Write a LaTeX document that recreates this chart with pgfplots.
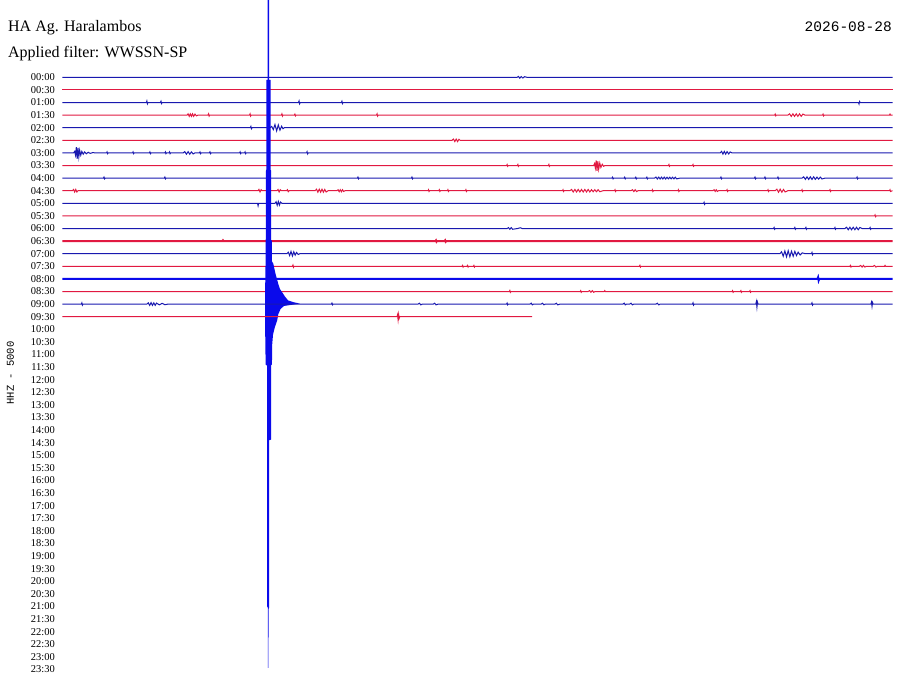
\documentclass[border=0pt]{standalone}
\usepackage{pgfplots}
\pgfplotsset{compat=1.18}
\usepackage{fontspec}
\setmainfont{Liberation Serif}
\newfontfamily\monofont{Liberation Mono}
\definecolor{hb}{RGB}{25,25,175}
\definecolor{hr}{RGB}{225,25,65}
\definecolor{qb}{RGB}{10,10,235}
\begin{document}
\begin{tikzpicture}
\begin{axis}[
    scale only axis,
    width=830pt, height=686pt,
    xmin=0, xmax=30,
    ymin=-6.135, ymax=48.31,
    y dir=reverse,
    clip=false,
    axis line style={draw=none},
    xtick=\empty,
    ytick={0,...,47},
    yticklabels={00:00,00:30,01:00,01:30,02:00,02:30,03:00,03:30,04:00,04:30,05:00,05:30,
                 06:00,06:30,07:00,07:30,08:00,08:30,09:00,09:30,10:00,10:30,11:00,11:30,
                 12:00,12:30,13:00,13:30,14:00,14:30,15:00,15:30,16:00,16:30,17:00,17:30,
                 18:00,18:30,19:00,19:30,20:00,20:30,21:00,21:30,22:00,22:30,23:00,23:30},
    major tick length=0pt,
    yticklabel style={font=\fontsize{10.5}{12}\selectfont, inner sep=0pt, xshift=-7.5pt},
    no markers,
    bl/.style={hb, line width=1pt},
    rd/.style={hr, line width=1pt},
]
% 00:00 - 08:30
\addplot[bl] coordinates {(0,0)(16.43,0)(16.48,-0.07)(16.53,0.07)(16.58,-0.06)(16.64,0.06)(16.70,-0.05)(16.79,0)(30,0)};
\addplot[rd] coordinates {(0,1)(30,1)};
\addplot[bl] coordinates {(0,2)(3.03,2)(3.05,1.88)(3.07,2.1)(3.09,2)(3.54,2)(3.56,1.9)(3.58,2.08)(3.60,2)(8.53,2)(8.55,1.88)(8.57,2.1)(8.59,2)(10.08,2)(10.10,1.9)(10.12,2.08)(10.14,2)(28.77,2)(28.79,2.12)(28.81,1.92)(28.83,2)(30,2)};
\addplot[rd] coordinates {(0,3)(4.50,3)(4.54,2.9)(4.58,3.1)(4.62,2.9)(4.66,3.1)(4.70,2.9)(4.74,3.1)(4.79,2.92)(4.84,3.06)(4.90,3)(5.26,3)(5.28,2.9)(5.30,3.08)(5.32,3)(6.76,3)(6.78,2.9)(6.80,3.08)(6.82,3)(7.91,3)(7.93,2.9)(7.95,3.08)(7.97,3)(8.38,3)(8.40,2.92)(8.42,3.06)(8.44,3)(11.35,3)(11.37,2.9)(11.39,3.08)(11.41,3)(25.74,3)(25.76,2.92)(25.78,3.06)(25.80,3)(26.22,3)(26.28,2.9)(26.34,3.1)(26.40,2.9)(26.46,3.1)(26.52,2.9)(26.58,3.1)(26.64,2.9)(26.70,3.1)(26.76,2.92)(26.84,3)(27.47,3)(27.49,2.92)(27.51,3.06)(27.53,3)(29.89,3)(29.91,2.92)(29.93,3)(30,3)};
\addplot[bl] coordinates {(0,4)(6.79,4)(6.81,3.9)(6.83,4.08)(6.85,4)(7.50,4)(7.56,3.9)(7.62,4.15)(7.68,3.75)(7.74,4.25)(7.80,3.78)(7.86,4.2)(7.92,3.88)(7.97,4.08)(8.02,4)(30,4)};
\addplot[rd] coordinates {(0,5)(14.08,5)(14.13,4.9)(14.18,5.1)(14.23,4.9)(14.28,5.1)(14.33,4.92)(14.37,5)(30,5)};
\addplot[bl] coordinates {(0,6)(0.40,6)(0.44,5.88)(0.47,6.18)(0.50,5.55)(0.53,6.48)(0.56,5.6)(0.59,6.32)(0.62,5.78)(0.66,6.18)(0.70,5.88)(0.75,6.1)(0.80,5.92)(0.86,6.07)(0.93,5.95)(1.00,6.04)(1.10,5.97)(1.17,6)(1.59,6)(1.61,5.92)(1.63,6.06)(1.65,6)(2.53,6)(2.55,5.92)(2.57,6.06)(2.59,6)(3.14,6)(3.16,5.92)(3.18,6.06)(3.20,6)(3.70,6)(3.72,5.92)(3.74,6.06)(3.76,6)(3.85,6)(3.87,5.92)(3.89,6.06)(3.91,6)(4.36,6)(4.42,5.9)(4.48,6.1)(4.54,5.9)(4.60,6.1)(4.66,5.92)(4.72,6.08)(4.79,6)(4.95,6)(4.97,5.92)(4.99,6.06)(5.01,6)(5.31,6)(5.33,5.92)(5.35,6.06)(5.37,6)(6.40,6)(6.42,5.92)(6.44,6.06)(6.46,6)(6.58,6)(6.60,5.92)(6.62,6.06)(6.64,6)(8.82,6)(8.84,5.9)(8.86,6.08)(8.88,6)(23.77,6)(23.82,5.88)(23.87,6.1)(23.92,5.88)(23.97,6.1)(24.02,5.9)(24.08,6.08)(24.13,5.92)(24.20,6)(30,6)};
\addplot[rd] coordinates {(0,7)(16.05,7)(16.07,6.92)(16.09,7.06)(16.11,7)(16.44,7)(16.46,6.92)(16.48,7.06)(16.50,7)(17.56,7)(17.58,6.92)(17.60,7.06)(17.62,7)(19.20,7)(19.23,6.85)(19.26,7.2)(19.29,6.6)(19.32,7.42)(19.35,6.65)(19.38,7.3)(19.42,6.8)(19.46,7.15)(19.51,6.9)(19.56,7.06)(19.61,7)(21.90,7)(21.92,6.92)(21.94,7.06)(21.96,7)(22.77,7)(22.79,6.92)(22.81,7.06)(22.83,7)(30,7)};
\addplot[bl] coordinates {(0,8)(1.48,8)(1.50,7.92)(1.52,8.06)(1.54,8)(3.68,8)(3.70,7.92)(3.72,8.06)(3.74,8)(10.66,8)(10.68,7.92)(10.70,8.06)(10.72,8)(12.61,8)(12.63,7.92)(12.65,8.06)(12.67,8)(19.86,8)(19.88,7.93)(19.90,8.06)(19.92,8)(20.30,8)(20.32,7.93)(20.34,8.06)(20.36,8)(20.70,8)(20.72,7.93)(20.74,8.06)(20.76,8)(21.10,8)(21.12,7.93)(21.14,8.06)(21.16,8)(21.40,8)(21.45,7.92)(21.50,8.07)(21.55,7.92)(21.60,8.07)(21.65,7.92)(21.70,8.07)(21.75,7.92)(21.80,8.07)(21.85,7.93)(21.90,8.06)(21.95,7.93)(22.00,8.06)(22.05,7.93)(22.10,8.06)(22.15,7.93)(22.20,8.06)(22.32,8)(23.78,8)(23.80,7.92)(23.82,8.06)(23.84,8)(25.01,8)(25.03,7.92)(25.05,8.06)(25.07,8)(25.37,8)(25.39,7.92)(25.41,8.06)(25.43,8)(25.84,8)(25.86,7.92)(25.88,8.06)(25.90,8)(26.73,8)(26.79,7.9)(26.85,8.1)(26.91,7.9)(26.97,8.1)(27.03,7.9)(27.09,8.1)(27.15,7.9)(27.21,8.1)(27.27,7.92)(27.33,8.08)(27.39,7.92)(27.45,8.07)(27.56,8)(28.70,8)(28.72,7.92)(28.74,8.06)(28.76,8)(30,8)};
\addplot[rd] coordinates {(0,9)(0.36,9)(0.40,8.9)(0.44,9.1)(0.48,8.9)(0.52,9.1)(0.56,9)(7.07,9)(7.10,8.9)(7.14,9.1)(7.18,8.92)(7.21,9)(7.75,9)(7.79,8.9)(7.83,9.1)(7.87,8.92)(7.91,9)(8.10,9)(8.13,8.92)(8.16,9.08)(8.19,9)(9.13,9)(9.18,8.88)(9.23,9.12)(9.28,8.88)(9.33,9.12)(9.38,8.88)(9.43,9.12)(9.48,8.9)(9.53,9.1)(9.60,9)(9.92,9)(9.96,8.92)(10.00,9.08)(10.04,8.92)(10.08,9.08)(10.12,8.92)(10.16,9.06)(10.21,9)(13.21,9)(13.23,8.92)(13.25,9.06)(13.27,9)(13.60,9)(13.62,8.92)(13.64,9.06)(13.66,9)(13.91,9)(13.93,8.92)(13.95,9.06)(13.97,9)(14.56,9)(14.58,8.92)(14.60,9.06)(14.62,9)(18.07,9)(18.09,8.92)(18.11,9.06)(18.13,9)(18.34,9)(18.40,8.9)(18.46,9.1)(18.52,8.9)(18.58,9.1)(18.64,8.9)(18.70,9.1)(18.76,8.9)(18.82,9.1)(18.88,8.9)(18.94,9.1)(19.00,8.9)(19.06,9.1)(19.12,8.92)(19.18,9.08)(19.24,8.92)(19.30,9.08)(19.36,8.92)(19.42,9.08)(19.54,9)(19.95,9)(19.97,8.92)(19.99,9.06)(20.01,9)(20.55,9)(20.60,8.92)(20.65,9.07)(20.70,8.92)(20.75,9.07)(20.80,9)(21.30,9)(21.32,8.92)(21.34,9.06)(21.36,9)(22.24,9)(22.26,8.92)(22.28,9.06)(22.30,9)(23.51,9)(23.55,8.92)(23.59,9.06)(23.63,8.92)(23.67,9.06)(23.71,9)(24.00,9)(24.02,8.92)(24.04,9.06)(24.06,9)(25.48,9)(25.50,8.92)(25.52,9.06)(25.54,9)(25.76,9)(25.82,8.88)(25.88,9.12)(25.94,8.88)(26.00,9.12)(26.06,8.9)(26.12,9.1)(26.22,9)(26.71,9)(26.73,8.92)(26.75,9.06)(26.77,9)(27.72,9)(27.74,8.92)(27.76,9.06)(27.78,9)(29.89,9)(29.91,8.92)(29.93,9.06)(30,9)};
\addplot[bl] coordinates {(0,10)(7.05,10)(7.07,10.2)(7.09,10)(7.68,10)(7.72,9.88)(7.76,10.16)(7.80,9.85)(7.84,10.15)(7.88,9.9)(7.93,10)(23.17,10)(23.19,9.92)(23.21,10.08)(23.23,10)(30,10)};
\addplot[rd] coordinates {(0,11)(29.35,11)(29.37,10.92)(29.39,11.06)(29.41,11)(30,11)};
\addplot[bl] coordinates {(0,12)(16.07,12)(16.12,11.93)(16.17,12.06)(16.22,11.93)(16.27,12.06)(16.45,12)(16.55,11.94)(16.61,12)(25.70,12)(25.72,11.92)(25.74,12.06)(25.76,12)(26.45,12)(26.47,11.92)(26.49,12.06)(26.51,12)(26.85,12)(26.87,11.92)(26.89,12.06)(26.91,12)(27.90,12)(27.92,11.92)(27.94,12.06)(27.96,12)(28.28,12)(28.34,11.9)(28.40,12.1)(28.46,11.9)(28.52,12.1)(28.58,11.9)(28.64,12.1)(28.70,11.9)(28.76,12.1)(28.82,11.92)(28.90,12)(29.17,12)(29.19,11.92)(29.21,12.06)(29.23,12)(30,12)};
\addplot[rd, line width=2pt] coordinates {(0,13)(5.78,13)(5.80,12.94)(5.82,13)(13.48,13)(13.50,12.94)(13.52,13.05)(13.54,13)(13.81,13)(13.83,12.94)(13.85,13.05)(13.87,13)(30,13)};
\addplot[bl] coordinates {(0,14)(8.11,14)(8.16,13.88)(8.21,14.15)(8.26,13.82)(8.31,14.18)(8.36,13.85)(8.41,14.12)(8.46,13.9)(8.52,14.06)(8.58,14)(25.93,14)(25.99,13.85)(26.05,14.2)(26.11,13.78)(26.17,14.25)(26.23,13.76)(26.29,14.24)(26.35,13.8)(26.41,14.2)(26.47,13.82)(26.53,14.15)(26.59,13.88)(26.66,14.1)(26.74,13.93)(26.84,14)(27.07,14)(27.09,13.9)(27.11,14.08)(27.13,14)(30,14)};
\addplot[rd] coordinates {(0,15)(8.31,15)(8.33,14.9)(8.35,15.08)(8.37,15)(14.44,15)(14.46,14.93)(14.48,15.06)(14.50,15)(14.62,15)(14.64,14.93)(14.66,15.06)(14.68,15)(14.85,15)(14.87,14.93)(14.89,15.06)(14.91,15)(20.85,15)(20.87,14.92)(20.89,15.06)(20.91,15)(28.46,15)(28.48,14.93)(28.50,15.06)(28.52,15)(28.80,15)(28.85,14.93)(28.90,15.06)(28.95,14.93)(29.00,15.06)(29.05,15)(29.30,15)(29.35,14.93)(29.40,15.06)(29.45,15)(29.71,15)(29.73,14.93)(29.75,15)(30,15)};
\addplot[bl, qb, line width=2pt] coordinates {(0,16)(27.29,16)(27.31,15.88)(27.33,16.12)(27.35,16)(30,16)};
\addplot[rd] coordinates {(0,17)(16.15,17)(16.17,16.92)(16.19,17.06)(16.21,17)(18.71,17)(18.73,16.93)(18.75,17.06)(18.77,17)(19.00,17)(19.05,16.93)(19.10,17.06)(19.15,16.93)(19.20,17.06)(19.25,17)(19.58,17)(19.60,16.93)(19.62,17)(24.20,17)(24.22,16.93)(24.24,17.06)(24.26,17)(24.50,17)(24.52,16.93)(24.54,17.06)(24.56,17)(24.83,17)(24.85,16.93)(24.87,17.06)(24.89,17)(30,17)};
% 09:00 - the large event and its coda
\addplot[draw=none, fill=qb] coordinates {(7.47,-6.135)(7.47,0.2)(7.52,0.21)(7.52,7.36)(7.54,7.4)(7.54,12.9)(7.57,13.0)(7.57,14.6)(7.62,14.8)(7.66,15.2)(7.70,15.6)(7.75,16.0)(7.80,16.4)(7.86,16.8)(7.95,17.1)(8.04,17.4)(8.15,17.7)(8.35,17.85)(8.58,17.95)(8.30,18.05)(8.00,18.15)(7.88,18.4)(7.80,18.8)(7.76,19.3)(7.68,19.8)(7.61,20.4)(7.58,21.2)(7.57,22.8)(7.54,22.85)(7.54,28.75)(7.47,28.8)(7.47,42.1)(7.45,42.2)(7.45,44.4)(7.44,44.5)(7.44,46.87)(7.42,46.87)(7.42,42.1)(7.40,42.0)(7.40,22.9)(7.345,22.8)(7.33,21.2)(7.32,17.5)(7.34,14.6)(7.34,12.9)(7.355,12.8)(7.355,7.4)(7.37,7.3)(7.37,0.21)(7.41,0.2)(7.41,-6.135)} -- cycle;
\addplot[bl] coordinates {(0,18)(0.68,18)(0.70,17.9)(0.72,18.08)(0.74,18)(3.05,18)(3.10,17.9)(3.15,18.1)(3.20,17.88)(3.25,18.1)(3.30,17.9)(3.35,18.1)(3.40,17.92)(3.50,18.06)(3.60,17.94)(3.70,18.05)(3.81,18)(7.40,18)(8.58,18)(9.72,18)(9.74,17.92)(9.76,18.06)(9.78,18)(12.85,18)(12.90,17.93)(12.95,18.06)(13.00,18)(13.40,18)(13.45,17.93)(13.50,18.06)(13.58,18)(16.05,18)(16.07,17.92)(16.09,18.06)(16.11,18)(16.90,18)(16.94,17.92)(16.98,18.06)(17.02,18)(17.30,18)(17.35,17.93)(17.40,18.06)(17.45,18)(17.80,18)(17.85,17.93)(17.90,18.06)(17.98,18)(20.26,18)(20.30,17.92)(20.34,18.06)(20.38,18)(20.50,18)(20.55,17.93)(20.60,18.06)(20.65,18)(21.45,18)(21.50,17.93)(21.55,18.06)(21.60,18)(22.77,18)(22.79,17.9)(22.81,18.08)(22.83,18)(25.06,18)(25.08,17.8)(25.10,18.25)(25.12,17.85)(25.14,18)(27.07,18)(27.09,17.9)(27.11,18.08)(27.13,18)(29.22,18)(29.24,17.85)(29.26,18.18)(29.28,17.88)(29.30,18)(30,18)};
\addplot[rd] coordinates {(0,19)(12.09,19)(12.11,18.85)(12.13,19.25)(12.15,18.82)(12.17,19.12)(12.19,19)(16.97,19)};
% header and channel label
\node[anchor=base west, inner sep=0pt, font=\fontsize{16}{19}\selectfont] at (axis cs:-1.97,-3.6) {HA Ag. Haralambos};
\node[anchor=base west, inner sep=0pt, font=\fontsize{16}{19}\selectfont] at (axis cs:-1.97,-1.61) {Applied filter: WWSSN-SP};
\node[anchor=base east, inner sep=0pt, font=\monofont\fontsize{14.5}{17}\selectfont] at (axis cs:29.98,-3.6) {2026-08-28};
\node[rotate=90, inner sep=0pt, font=\monofont\fontsize{10.5}{12}\selectfont] at (axis cs:-1.88,23.47) {HHZ - 5000};
\end{axis}
\pgfresetboundingbox
\path[use as bounding box] (current axis.south west) ++(-62.5pt,0) rectangle ++(900pt,686pt);
\end{tikzpicture}
\end{document}
